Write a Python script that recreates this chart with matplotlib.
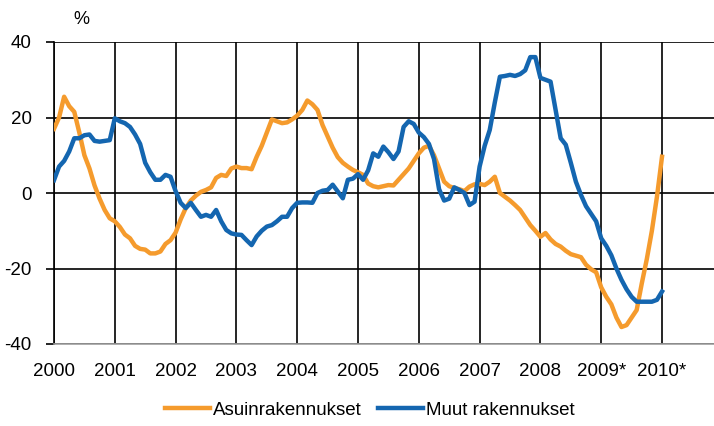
import numpy as np
import matplotlib
matplotlib.use("Agg")
import matplotlib.pyplot as plt

# monthly values, Jan 2000 .. Jan 2010 (%)
asuin = [17, 20, 25.5, 23, 21.5, 16, 10, 6.5, 2, -1.5, -4.5, -6.7,
         -7.5, -9, -11, -12, -14, -14.8, -15, -16, -16, -15.5, -13.5, -12.5,
         -10.5, -7, -4, -2, -0.7, 0.3, 0.8, 1.5, 4, 4.8, 4.5, 6.5,
         7, 6.6, 6.6, 6.3, 9.6, 12.5, 16, 19.5, 19, 18.5, 18.7, 19.5,
         20.5, 22, 24.5, 23.5, 22, 18, 15, 12, 9.5, 8, 7, 6.1,
         5.5, 4.8, 2.5, 1.8, 1.5, 1.8, 2.1, 2, 3.5, 5, 6.5, 8.5,
         10.5, 12, 12.5, 10, 6.5, 3, 1.8, 1.3, 1, 0.5, 1.7, 2.3,
         2.4, 2.1, 3, 4.3, 0, -1, -2, -3.2, -4.5, -6.5, -8.5, -10,
         -11.6, -10.6, -12.3, -13.5, -14.2, -15.3, -16.2, -16.6, -17, -19, -20.2, -21,
         -25, -27.5, -29.5, -33, -35.5, -35, -33, -31, -24, -17.5, -10, -1,
         9.6]
muut = [3.4, 7, 8.5, 11, 14.5, 14.5, 15.3, 15.5, 13.8, 13.6, 13.8, 14,
        19.8, 19, 18.5, 17.5, 15.5, 13, 8, 5.5, 3.5, 3.5, 4.8, 4.3,
        0.5, -2.6, -4, -2.6, -4.5, -6.3, -5.8, -6.3, -4.5, -7.5, -9.8, -10.7,
        -11, -11.1, -12.5, -13.8, -11.5, -10, -8.9, -8.5, -7.5, -6.3, -6.3, -4,
        -2.6, -2.5, -2.5, -2.6, 0, 0.6, 0.8, 2.2, 0.4, -1.4, 3.5, 3.8,
        5, 3.5, 6, 10.5, 9.6, 12.3, 10.8, 9, 11, 17.5, 19, 18.3,
        16, 14.8, 13, 9, 1, -2, -1.5, 1.5, 0.8, 0, -3.2, -2.3,
        7, 12.5, 16.7, 24, 30.8, 31, 31.3, 31, 31.5, 32.5, 36, 36,
        30.5, 30, 29.5, 22, 14.5, 12.8, 8, 3, -0.5, -3.5, -5.5, -7.5,
        -12, -14, -16.5, -20, -23, -25.5, -27.5, -28.8, -28.8, -28.8, -28.8, -28.3,
        -26.1]
years = list(range(2000, 2011))
year_labels = ["2000", "2001", "2002", "2003", "2004", "2005", "2006",
               "2007", "2008", "2009*", "2010*"]
series_names = ["Asuinrakennukset", "Muut rakennukset"]

t = 2000 + np.arange(len(asuin)) / 12.0

plt.rcParams['font.family'] = ['Liberation Sans', 'DejaVu Sans']
plt.rcParams['axes.unicode_minus'] = False
fig = plt.figure(figsize=(7.14, 4.26), dpi=100)
ax = fig.add_axes([54/714, 1-344/426, 1-54/714, (344-42)/426])

ax.plot(t, asuin, color='#F59B2D', lw=3.2, label=series_names[0], zorder=3)
ax.plot(t, muut, color='#1466B0', lw=3.2, label=series_names[1], zorder=4)

ax.set_xlim(2000, 2010.855)
ax.set_ylim(-40, 40)
ax.set_yticks([-40, -20, 0, 20, 40])
ax.set_xticks(years)
ax.set_xticklabels(year_labels)
ax.grid(True, color='black', lw=1.2)
ax.set_axisbelow(True)
for s in ['top', 'right']:
    ax.spines[s].set_visible(False)
ax.spines['left'].set_color('black')
ax.spines['left'].set_linewidth(1.2)
ax.spines['bottom'].set_color('#a0a0a0')
ax.spines['bottom'].set_linewidth(1.2)
ax.tick_params(axis='y', length=6, width=1.2, pad=10, labelsize=13.5, colors='black')
ax.tick_params(axis='x', length=0, pad=14, labelsize=13.5)

fig.text(81/714, 1-19/426, '%', ha='center', va='center', fontsize=13)

fig.legend(loc='center', bbox_to_anchor=(0.518, 1-410/426), ncol=2, frameon=False,
           fontsize=13.5, handlelength=2.4, handletextpad=0.15, columnspacing=0.9)

fig.savefig('out.png', dpi=100)
